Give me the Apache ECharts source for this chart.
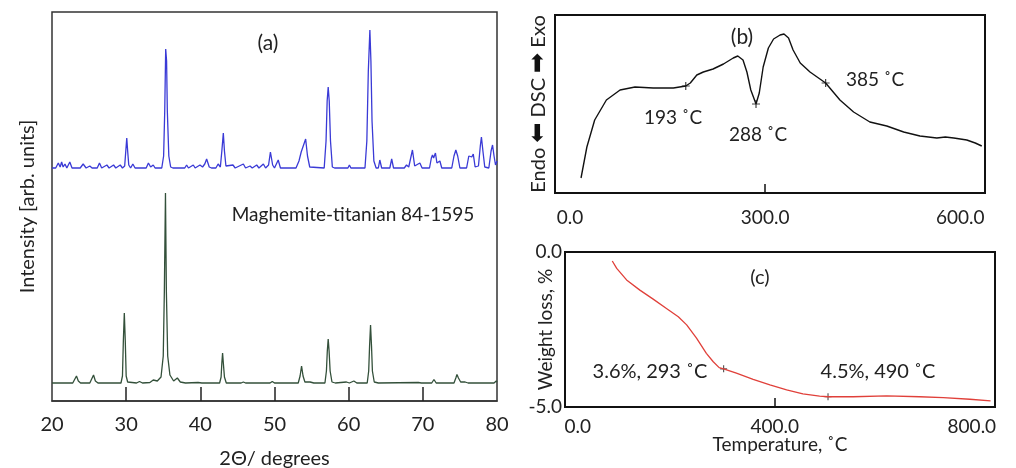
<!DOCTYPE html>
<html><head><meta charset="utf-8">
<script src="https://cdn.jsdelivr.net/npm/echarts@6/dist/echarts.min.js"></script>
<style>html,body{margin:0;padding:0;background:#fff}#c{width:1016px;height:468px}</style>
</head><body><div id="c"></div>
<script>
// ---- (a) XRD patterns: [2theta, intensity (arb.)]
const xrdSample = [
[20,233],[20.5,233],[20.85,238],[21.1,234],[21.3,239],[21.5,234],[21.75,237],[22.0,233],[22.4,239],[22.7,233],
[23.8,233],[24.2,237],[24.6,233],[25.1,235],[25.4,233],[26.1,233],[26.4,238],[26.7,233],[27.4,236],[27.7,233],
[28.3,236],[28.6,233],[29.2,236],[29.5,233],[29.8,235],[29.95,250],[30.08,263],[30.2,250],[30.35,236],[30.6,233],
[30.9,237],[31.2,233],[32.7,233],[33.0,238],[33.3,234],[33.65,236],[33.9,233],[34.8,233],[35.05,245],[35.2,290],
[35.33,352],[35.45,340],[35.55,290],[35.75,245],[36.0,234],[36.3,233],[37.9,233],[38.15,236],[38.4,233],[39.05,236],
[39.3,233],[39.95,236],[40.3,234],[40.6,237],[40.85,242],[41.2,234],[41.5,233],[42.1,233],[42.4,237],[42.7,234],
[42.9,250],[43.1,268],[43.25,250],[43.45,235],[43.7,233],[44.4,236],[44.7,233],[45.8,237],[46.1,233],[46.7,235],
[47.0,233],[47.6,236],[47.9,233],[48.5,237],[48.8,233],[49.2,236],[49.45,249],[49.75,236],[50.0,233],[50.5,241],
[50.8,233],[52.9,233],[53.3,240],[53.6,249],[53.8,248],[54.2,262],[54.45,245],[54.75,234],[55.0,233],[56.7,233],
[56.95,260],[57.1,300],[57.24,314],[57.38,300],[57.55,260],[57.8,234],[58.1,233],[59.9,233],[60.1,236],[60.3,233],
[62.2,233],[62.45,260],[62.65,330],[62.86,371],[63.0,340],[63.15,280],[63.4,240],[63.7,233],[64.0,233],[64.2,241],
[64.45,233],[65.55,233],[65.8,242],[66.05,233],[67.5,233],[67.8,236],[68.1,234],[68.6,251],[68.9,235],[69.6,238],
[69.9,233],[70.9,233],[71.15,243],[71.3,246],[71.45,243],[71.7,248],[71.9,238],[72.3,240],[72.55,233],[73.9,233],
[74.2,245],[74.45,251],[74.7,245],[75.0,233],[75.9,233],[76.2,245],[76.4,246],[76.6,244],[76.8,247],[77.05,234],
[77.5,235],[77.75,255],[77.9,264],[78.1,250],[78.35,234],[78.9,233],[79.2,250],[79.4,256],[79.6,245],[79.8,236],[80,240]
];
const xrdReference = [
[20,18],[22.8,18],[23.05,20],[23.3,25],[23.55,20],[23.85,18],[25.1,18],[25.35,20],[25.6,26],[25.85,20],[26.2,18],
[29.3,18],[29.5,25],[29.62,60],[29.75,88],[29.88,60],[30.0,25],[30.2,19],[31.4,18],[31.8,19.5],[32.2,18],[33.2,18.5],
[33.65,21],[34.2,20],[34.7,24],[35.0,45],[35.15,110],[35.3,208],[35.42,110],[35.6,45],[35.9,26],[36.4,20],[36.9,23],
[37.3,19],[38.0,18],[39.7,18.5],[40.2,18],[42.6,18],[42.8,24],[42.9,38],[43.0,48],[43.1,38],[43.25,24],[43.5,18],
[45.5,18],[45.8,19],[46.1,18],[49.4,18],[49.7,19.5],[50.0,18],[53.2,18],[53.45,25],[53.65,35],[53.85,25],[54.1,19],
[54.8,19],[55.3,18],[56.8,18],[57.0,30],[57.12,50],[57.24,62],[57.36,50],[57.5,30],[57.75,19],[58.2,18],[59.7,19],
[60.1,18],[60.7,20],[61.1,18],[62.5,18],[62.7,30],[62.82,55],[62.95,76],[63.08,55],[63.2,30],[63.45,19],[64.0,18],
[69.4,18.5],[69.8,18],[71.2,18],[71.5,21.5],[71.8,18],[74.2,18],[74.45,23],[74.6,26.5],[74.8,23],[75.1,19],[75.7,19],
[76.1,18],[79.6,18],[79.9,20],[80,19]
];
const xrdTicks = [20,30,40,50,60,70,80];
const xrdTickMarks = [30,40,50,60,70];

// ---- (b) DSC: [temperature C, heat flow (arb.)]
const dscCurve = [
[17,15],[26,46],[38,73],[56,93],[77,103],[100,106],[128,105],[159,105],[178,107],[185,110],[195,118],[205,121],
[220,124],[236,129],[251,135],[258,137],[266,133],[272,121],[278,103],[286,89],[291,100],[297,126],[305,145],
[313,154],[323,158],[329,159],[336,155],[343,143],[354,130],[369,121],[393,110],[415,93],[436,81],[461,71],
[487,67],[513,61],[538,57],[564,55],[577,56],[590,55],[610,53],[623,50],[626,52],[633,47]
];
const dscMarks = [[178,107],[286,89],[393,110]];
const dscLabels = ['193 ˚C','288 ˚C','385 ˚C'];
const dscTicks = [0,300,600];

// ---- (c) TGA: [temperature C, weight loss %]
const tgaCurve = [
[70,-0.29],[79,-0.53],[99,-0.90],[126,-1.23],[153,-1.52],[180,-1.82],[204,-2.09],[221,-2.35],[241,-2.78],
[261,-3.27],[275,-3.54],[287,-3.73],[296,-3.77],[322,-3.91],[356,-4.11],[390,-4.29],[424,-4.45],[457,-4.58],
[491,-4.65],[508,-4.67],[559,-4.67],[627,-4.64],[694,-4.67],[742,-4.70],[796,-4.75],[838,-4.80]
];
const tgaMarks = [[296,-3.77],[508,-4.67]];
const tgaLabels = ['3.6%, 293 ˚C','4.5%, 490 ˚C'];
const tgaTicks = [0,400,800];

const FONT = 'Lato';
const TXT = '#222';
const plus = 'path://M5 0L5 10M0 5L10 5';
const chart = echarts.init(document.getElementById('c'), null, {renderer:'canvas'});
const txt = (x,y,t,fs) => ({type:'text', x:x, y:y, style:{text:t, fontSize:fs, fontFamily:FONT, fill:TXT, align:'center', verticalAlign:'middle'}});
const gridBase = {show:true, backgroundColor:'transparent', containLabel:false, outerBoundsMode:'none'};

chart.setOption({
  animation:false,
  backgroundColor:'#fff',
  grid:[
    Object.assign({left:52, top:12, width:445, height:389, borderColor:'#333', borderWidth:1.5}, gridBase),
    Object.assign({left:555, top:15, width:430, height:178, borderColor:'#111', borderWidth:2}, gridBase),
    Object.assign({left:565, top:252, width:430, height:155, borderColor:'#111', borderWidth:2}, gridBase)
  ],
  xAxis:[
    {gridIndex:0, type:'value', min:20, max:80, interval:10,
     axisLine:{show:true, onZero:false, lineStyle:{color:'#333', width:1.5}}, splitLine:{show:false},
     axisTick:{show:true, inside:true, length:14, customValues:xrdTickMarks, lineStyle:{color:'#222', width:1.5}},
     axisLabel:{fontSize:20, fontFamily:FONT, color:TXT, margin:14, customValues:xrdTicks},
     name:'2Θ/ degrees', nameLocation:'middle', nameGap:48, nameMoveOverlap:false, nameTextStyle:{fontSize:20, fontFamily:FONT, color:TXT}},
    {gridIndex:1, type:'value', min:-23, max:638,
     axisLine:{show:false, onZero:false}, splitLine:{show:false},
     axisTick:{inside:true, length:9, customValues:[300], lineStyle:{color:'#111', width:1.5}},
     axisLabel:{fontSize:19, fontFamily:FONT, color:TXT, margin:15, customValues:dscTicks, formatter:v=>v.toFixed(1)}},
    {gridIndex:2, type:'value', min:-26, max:847,
     axisLine:{show:false, onZero:false}, splitLine:{show:false},
     axisTick:{inside:true, length:9, customValues:[400], lineStyle:{color:'#111', width:1.5}},
     axisLabel:{fontSize:19, fontFamily:FONT, color:TXT, margin:10, customValues:tgaTicks, formatter:v=>v.toFixed(1)},
     name:'Temperature, ˚C', nameLocation:'middle', nameGap:28, nameMoveOverlap:false, nameTextStyle:{fontSize:19, fontFamily:FONT, color:TXT}}
  ],
  yAxis:[
    {gridIndex:0, type:'value', min:0, max:389, axisLine:{show:false, onZero:false}, axisTick:{show:false}, axisLabel:{show:false}, splitLine:{show:false},
     name:'Intensity [arb. units]', nameLocation:'middle', nameGap:14, nameMoveOverlap:false, nameTextStyle:{fontSize:20, fontFamily:FONT, color:TXT}},
    {gridIndex:1, type:'value', min:0, max:178, axisLine:{show:false, onZero:false}, axisTick:{show:false}, axisLabel:{show:false}, splitLine:{show:false},
     name:'{t|Endo} {a|⬅} {t|DSC} {a|➡} {t|Exo}', nameLocation:'middle', nameGap:4, nameMoveOverlap:false,
     nameTextStyle:{fontSize:20, fontFamily:FONT, color:TXT, rich:{t:{fontSize:20, fontFamily:FONT, color:TXT}, a:{fontSize:24, fontFamily:'DejaVu Sans', color:'#111'}}}},
    {gridIndex:2, type:'value', min:-5, max:0, interval:5, axisLine:{show:false, onZero:false}, axisTick:{show:false}, splitLine:{show:false},
     axisLabel:{fontSize:19, fontFamily:FONT, color:TXT, margin:3, formatter:v=>v.toFixed(1)},
     name:'Weight loss, %', nameLocation:'middle', nameGap:10, nameMoveOverlap:false, nameTextStyle:{fontSize:19, fontFamily:FONT, color:TXT}}
  ],
  series:[
    {type:'line', xAxisIndex:0, yAxisIndex:0, data:xrdSample, showSymbol:false, lineStyle:{color:'#3a3ad6', width:1.3}},
    {type:'line', xAxisIndex:0, yAxisIndex:0, data:xrdReference, showSymbol:false, lineStyle:{color:'#33503a', width:1.3}},
    {type:'line', xAxisIndex:1, yAxisIndex:1, data:dscCurve, showSymbol:false, lineStyle:{color:'#111', width:1.4}},
    {type:'scatter', xAxisIndex:1, yAxisIndex:1, data:dscMarks, symbol:plus, symbolSize:8, itemStyle:{color:'none', borderColor:'#111', borderWidth:1.2}},
    {type:'line', xAxisIndex:2, yAxisIndex:2, data:tgaCurve, showSymbol:false, lineStyle:{color:'#e0403a', width:1.3}},
    {type:'scatter', xAxisIndex:2, yAxisIndex:2, data:tgaMarks, symbol:plus, symbolSize:7, itemStyle:{color:'none', borderColor:'#333', borderWidth:1.2}}
  ],
  graphic:[
    txt(268,43,'(a)',21),
    txt(353,215,'Maghemite-titanian 84-1595',19),
    txt(742,37,'(b)',21),
    txt(673,118,dscLabels[0],19),
    txt(758,135,dscLabels[1],19),
    txt(875,80,dscLabels[2],19),
    txt(760,278,'(c)',20),
    txt(650,372,tgaLabels[0],20),
    txt(878,372,tgaLabels[1],20)
  ]
});
</script></body></html>
